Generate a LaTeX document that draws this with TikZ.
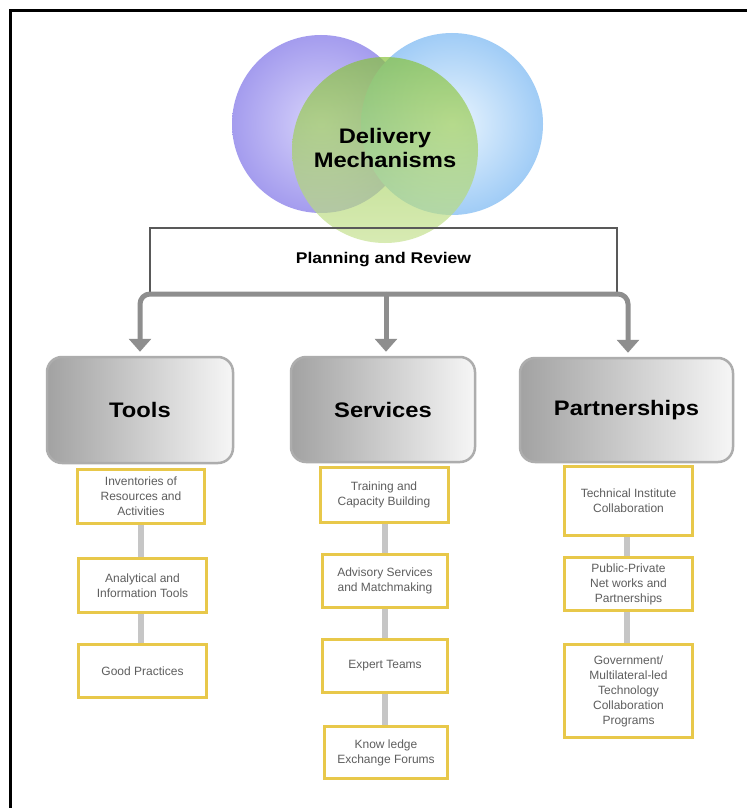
\documentclass[tikz,border=0pt]{standalone}
\usepackage{fontspec}
\setmainfont{Liberation Sans}
\newfontfamily\hvwide[FakeStretch=1.13]{Liberation Sans}
\usetikzlibrary{arrows.meta}
\definecolor{purpout}{HTML}{A49CEE}
\definecolor{purpin}{HTML}{D8D4FB}
\definecolor{blueout}{HTML}{A0CCF6}
\definecolor{bluein}{HTML}{EAF5FE}
\definecolor{greentop}{HTML}{86C236}
\definecolor{greenbot}{HTML}{C6E290}
\definecolor{ybord}{HTML}{E8C84A}
\definecolor{smalltxt}{HTML}{5E5E5E}
\definecolor{arrowgray}{HTML}{8E8E8E}
\definecolor{conngray}{HTML}{C6C6C6}
\definecolor{boxdark}{HTML}{A2A2A2}
\definecolor{boxlight}{HTML}{F6F6F6}
\definecolor{boxrim}{HTML}{ADADAD}
\tikzset{
  bigcirc/.style={circle, inner sep=0pt},
  titletext/.style={font=\hvwide\bfseries\fontsize{21}{24}\selectfont, align=center, text=black},
  planbox/.style={inner sep=0pt, font=\hvwide\bfseries\fontsize{15.5}{18}\selectfont},
  flowarrow/.style={draw=arrowgray, line width=5pt, rounded corners=10pt,
    -{Triangle[width=22pt,length=13pt]}, shorten >=4pt},
  graybox/.style={rounded corners=15pt, left color=boxdark, right color=boxlight,
    draw=boxrim, line width=2.5pt, inner sep=0pt,
    font=\hvwide\bfseries\fontsize{21}{24}\selectfont},
  smallbox/.style={draw=ybord, line width=2pt, fill=white, inner sep=1pt,
    align=center, text=smalltxt, font=\fontsize{12}{15}\selectfont},
  conn/.style={draw=conngray, line width=6pt}
}
\begin{document}
\begin{tikzpicture}[x=1pt,y=-1pt]
\useasboundingbox[fill=white] (0,0) rectangle (747,808);
% circles
\node[bigcirc, minimum size=178, inner color=purpin, outer color=purpout] (cp) at (321,124) {};
\node[bigcirc, minimum size=182, inner color=bluein, outer color=blueout] (cb) at (452,124) {};
\node[bigcirc, minimum size=186, top color=greentop, bottom color=greenbot, opacity=0.68] (cg) at (385,150) {};
\node[titletext] (title) at (385,148) {Delivery\\Mechanisms};
% planning box
\node[planbox, minimum width=467, minimum height=64] (plan) at (383.5,260) {Planning and Review};
\draw[draw=black!65, line width=1.5pt] (plan.south west) -- (plan.north west) -- (plan.north east) -- (plan.south east);
% gray boxes
\node[graybox, minimum width=186, minimum height=106] (tools) at (140,410) {Tools};
\node[graybox, minimum width=184, minimum height=105] (serv) at (383,409.5) {Services};
\node[graybox, minimum width=213, minimum height=104] (part) at (626.5,410) {Partnerships};
% arrows
\coordinate (j) at (386,294);
\draw[flowarrow] (j) -| (tools.north);
\draw[flowarrow] (j) -| (part.north -| 628,0);
\draw[flowarrow, rounded corners=0pt] (j) -- (j |- serv.north);
% small boxes - tools
\node[smallbox, minimum width=126, minimum height=53] (t1) at (141,496.5) {Inventories of\\Resources and\\Activities};
\node[smallbox, minimum width=127, minimum height=53] (t2) at (142.5,585.5) {Analytical and\\Information Tools};
\node[smallbox, minimum width=127, minimum height=52] (t3) at (142.5,671) {Good Practices};
% services
\node[smallbox, minimum width=127, minimum height=54] (s1) at (384,495) {Training and\\Capacity Building};
\node[smallbox, minimum width=124, minimum height=52] (s2) at (385,581) {Advisory Services\\and Matchmaking};
\node[smallbox, minimum width=124, minimum height=52] (s3) at (385,666) {Expert Teams};
\node[smallbox, minimum width=122, minimum height=51] (s4) at (386,752.5) {Know ledge\\Exchange Forums};
% partnerships
\node[smallbox, minimum width=127, minimum height=68] (p1) at (628.5,501) {Technical Institute\\Collaboration};
\node[smallbox, minimum width=127, minimum height=52] (p2) at (628.5,584) {Public-Private\\Net works and\\Partnerships};
\node[smallbox, minimum width=127, minimum height=92] (p3) at (628.5,691) {Government/\\Multilateral-led\\Technology\\Collaboration\\Programs};
% connectors
\draw[conn] (t1.south -| 141,0) -- (t2.north -| 141,0);
\draw[conn] (t2.south -| 141,0) -- (t3.north -| 141,0);
\draw[conn] (s1.south -| 385,0) -- (s2.north -| 385,0);
\draw[conn] (s2.south -| 385,0) -- (s3.north -| 385,0);
\draw[conn] (s3.south -| 385,0) -- (s4.north -| 385,0);
\draw[conn] (p1.south -| 627,0) -- (p2.north -| 627,0);
\draw[conn] (p2.south -| 627,0) -- (p3.north -| 627,0);
% redraw small box borders over connector ends
\foreach \n in {t1,t2,t3,s1,s2,s3,s4,p1,p2,p3}{
  \draw[draw=ybord, line width=2pt] (\n.south west) rectangle (\n.north east);
}
% outer frame
\coordinate (f1) at (10,808);
\coordinate (f2) at (10,11);
\coordinate (f3) at (747,11);
\draw[line width=3pt, black] (f1) -- (f2) -- (f3);
\end{tikzpicture}
\end{document}
